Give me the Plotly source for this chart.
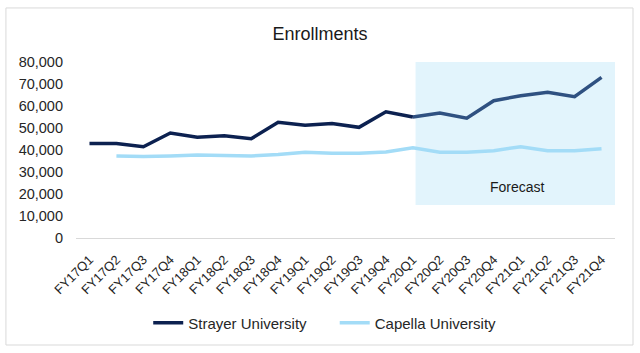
import plotly.graph_objects as go

quarters = ["FY17Q1","FY17Q2","FY17Q3","FY17Q4","FY18Q1","FY18Q2","FY18Q3","FY18Q4",
            "FY19Q1","FY19Q2","FY19Q3","FY19Q4","FY20Q1","FY20Q2","FY20Q3","FY20Q4",
            "FY21Q1","FY21Q2","FY21Q3","FY21Q4"]
strayer = [43000, 43000, 41500, 47700, 45800, 46500, 45100, 52600, 51200, 52000,
           50300, 57400, 55000, 56800, 54500, 62400, 64700, 66200, 64200, 73000]
capella = [None, 37300, 37000, 37300, 37700, 37500, 37300, 38000, 39000, 38500,
           38500, 39100, 41000, 39000, 39000, 39700, 41500, 39700, 39700, 40600]
forecast_start = 12  # index of FY20Q1
y_ticks = [0, 10000, 20000, 30000, 40000, 50000, 60000, 70000, 80000]

FONT = "Liberation Sans, Arial, sans-serif"

fig = go.Figure()
fig.add_trace(go.Scatter(x=quarters[:forecast_start + 1], y=strayer[:forecast_start + 1],
                         mode="lines", name="Strayer University", legend="legend",
                         line=dict(color="#0c2150", width=3.5)))
fig.add_trace(go.Scatter(x=quarters[forecast_start:], y=strayer[forecast_start:],
                         mode="lines", name="Strayer forecast", showlegend=False,
                         line=dict(color="#2f5181", width=3.5)))
fig.add_trace(go.Scatter(x=quarters, y=capella, mode="lines", name="Capella University",
                         legend="legend2",
                         line=dict(color="#a3dcf7", width=3.5)))

fig.add_shape(type="rect", xref="x", yref="y", x0=12.1, x1=19.5, y0=15000, y1=80000,
              fillcolor="#e2f4fc", line=dict(width=0), layer="below")
fig.add_shape(type="rect", xref="paper", yref="paper", x0=-0.13, x1=1.0334, y0=-0.608, y1=1.307,
              line=dict(color="#d9d9d9", width=1), fillcolor="rgba(0,0,0,0)", layer="below")
fig.add_annotation(x=15.9, y=23200, xref="x", yref="y", text="Forecast", showarrow=False,
                   font=dict(family=FONT, size=14, color="#1a1a1a"))

legend_common = dict(orientation="h", xanchor="left", y=-0.483, yanchor="middle",
                     font=dict(family=FONT, size=15, color="#262626"), itemwidth=30,
                     bgcolor="rgba(0,0,0,0)")

fig.update_layout(
    width=640, height=353,
    margin=dict(l=76, r=25, t=62, b=115),
    paper_bgcolor="white", plot_bgcolor="white",
    title=dict(text="Enrollments", x=0.5, xanchor="center", y=0.905, yanchor="middle",
               font=dict(family=FONT, size=18, color="#1a1a1a")),
    font=dict(family=FONT, color="#262626"),
    showlegend=True,
    legend=dict(x=0.134, **legend_common),
    legend2=dict(x=0.480, **legend_common),
    xaxis=dict(type="category", categoryorder="array", categoryarray=quarters,
               range=[-0.5, 19.5],
               tickangle=-45, tickfont=dict(family=FONT, size=13, color="#262626"),
               showgrid=False, showline=True, linecolor="#d9d9d9", linewidth=1,
               ticks="", zeroline=False, ticklabelstandoff=8),
    yaxis=dict(range=[0, 80000], tickvals=y_ticks, tickformat=",",
               tickfont=dict(family=FONT, size=14.5, color="#262626"),
               showgrid=False, showline=False, zeroline=False, ticks="", ticklabelstandoff=12),
)

fig.write_html("out.html")
